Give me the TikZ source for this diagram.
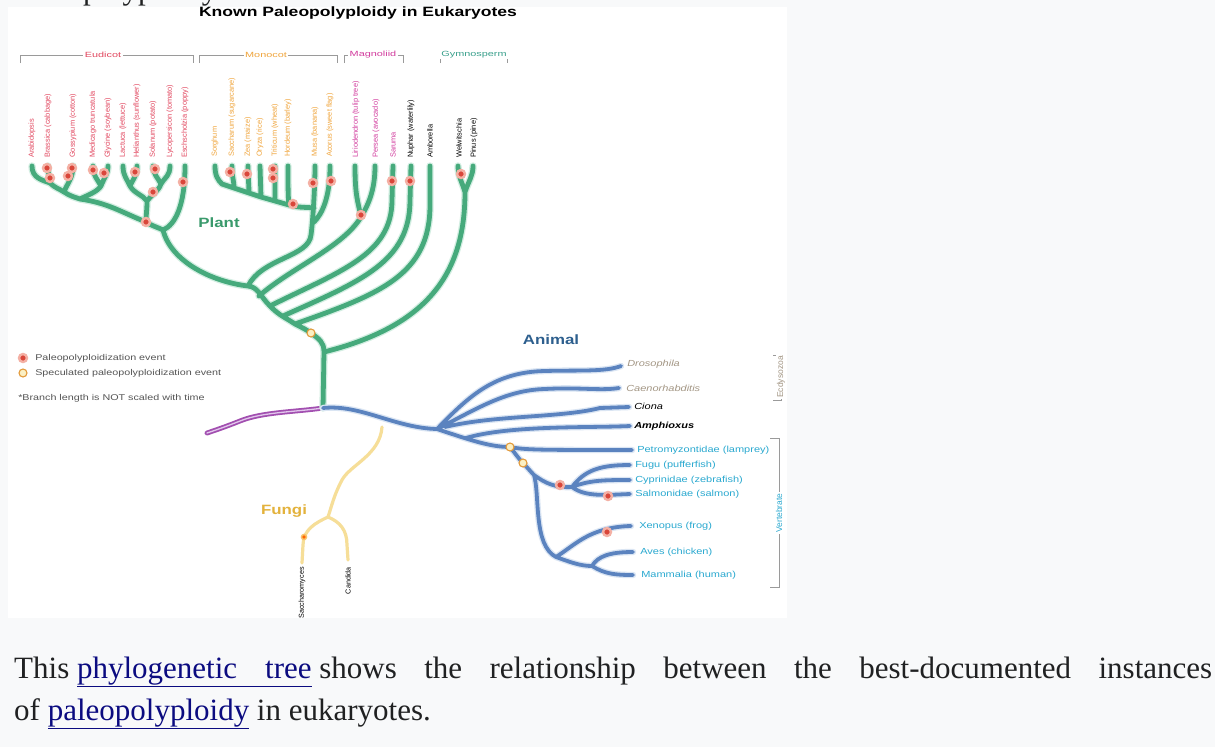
\documentclass[tikz,border=0pt]{standalone}
\usepackage{fontspec}
\setmainfont{Liberation Serif}
\newfontfamily\lsans{Liberation Sans}
\definecolor{pagebg}{HTML}{F8F9FA}
\definecolor{plantg}{HTML}{46AA7C}
\definecolor{planthalo}{HTML}{D3EEE2}
\definecolor{animb}{HTML}{5B83BF}
\definecolor{animhalo}{HTML}{DAE5F3}
\definecolor{fungiy}{HTML}{F6DE98}
\definecolor{rootp}{HTML}{A24FB0}
\definecolor{rootl}{HTML}{E2C6EC}
\definecolor{evred}{HTML}{D9463A}
\definecolor{evhalo}{HTML}{F4B0A4}
\definecolor{specc}{HTML}{E39A3A}
\definecolor{specfill}{HTML}{FBF0C4}
\definecolor{eudc}{HTML}{E2475F}
\definecolor{monoc}{HTML}{F0A53C}
\definecolor{magc}{HTML}{D23C9E}
\definecolor{gymc}{HTML}{3AA08C}
\definecolor{invc}{HTML}{A39684}
\definecolor{vertc}{HTML}{2AA9D0}
\definecolor{plantlab}{HTML}{3A9A6C}
\definecolor{animlab}{HTML}{2D5F8E}
\definecolor{fungilab}{HTML}{E3B23C}
\definecolor{linkc}{HTML}{0B0B80}
\definecolor{legc}{HTML}{555555}
\definecolor{brkc}{HTML}{9A9A9A}
\definecolor{captc}{HTML}{202122}
\begin{document}
\begin{tikzpicture}[x=1pt,y=-1pt,
  plant/.style={draw=plantg,line width=4.8pt,line cap=round,line join=round,
    preaction={draw=planthalo,line width=7.4pt,line cap=round,line join=round}},
  anim/.style={draw=animb,line width=3.8pt,line cap=round,line join=round,
    preaction={draw=animhalo,line width=6.4pt,line cap=round,line join=round}},
  fung/.style={draw=fungiy,line width=3.2pt,line cap=round,line join=round},
  rootst/.style={draw=rootp,line width=1.8pt,double=rootl,double distance=1.3pt,line cap=round},
  ev/.style={circle,fill=evred,draw=evhalo,line width=2.4pt,minimum size=8pt,inner sep=0pt},
  spec/.style={circle,fill=specfill,draw=specc,line width=1.1pt,minimum size=8pt,inner sep=0pt},
  tipl/.style={font=\lsans\fontsize{7.4}{8}\selectfont,rotate=90,anchor=west,inner sep=0pt},
  ftip/.style={font=\lsans\fontsize{7.2}{8}\selectfont,rotate=90,anchor=east,inner sep=0pt},
  anl/.style={font=\lsans\fontsize{8.8}{10}\selectfont,xscale=1.25,anchor=west,inner sep=0pt},
  brk/.style={draw=brkc,line width=0.6pt},
  brkl/.style={font=\lsans\fontsize{7.5}{8}\selectfont,xscale=1.45,fill=white,inner sep=1pt},
  sidel/.style={font=\lsans\fontsize{8.5}{9}\selectfont,rotate=90,fill=white,inner sep=1pt},
  legl/.style={font=\lsans\fontsize{8.4}{9}\selectfont,xscale=1.28,anchor=west,inner sep=0pt,text=legc},
  biglab/.style={font=\lsans\bfseries\fontsize{13.5}{14}\selectfont,xscale=1.25,inner sep=0pt},
  capt/.style={font=\fontsize{31}{42}\selectfont,anchor=base west,inner sep=0pt,text=captc}]
\useasboundingbox (0,0) rectangle (1215,747);
\clip (0,0) rectangle (1215,747);
\fill[pagebg] (0,0) rectangle (1215,747);
\fill[white] (8,7) rectangle (787,618);
\node[capt] (toptext) at (14,-1) {Paleopolyploidy};
\node[font=\lsans\bfseries\fontsize{13.5}{13.5}\selectfont,xscale=1.3,inner sep=0pt] (title) at (358,13) {Known Paleopolyploidy in Eukaryotes};
% brackets
\draw[brk] (20,63) -- (20,55) -- (193,55) -- (193,63);
\node[brkl,text=eudc] (beud) at (103,55) {Eudicot};
\draw[brk] (199,63) -- (199,55) -- (337,55) -- (337,63);
\node[brkl,text=monoc] (bmon) at (266,55) {Monocot};
\draw[brk] (344,63) -- (344,55) -- (403,55) -- (403,63);
\node[brkl,text=magc] (bmag) at (373,55) {Magnoliid};
\draw[brk] (440,63) -- (440,55) -- (507,55) -- (507,63);
\node[brkl,text=gymc] (bgym) at (474,55) {Gymnosperm};
% plant coordinates
\coordinate (e1) at (32,166); \coordinate (e2) at (48,166); \coordinate (e3) at (73,166);
\coordinate (e4) at (93,166); \coordinate (e5) at (108,166); \coordinate (e6) at (123,166);
\coordinate (e7) at (137,166); \coordinate (e8) at (153,166); \coordinate (e9) at (170,166);
\coordinate (e10) at (185,166);
\coordinate (j12) at (50,183); \coordinate (j123) at (64,192); \coordinate (j45) at (101,186);
\coordinate (jR) at (80,199); \coordinate (j67) at (130,186); \coordinate (j89) at (161,184);
\coordinate (jA) at (147,201); \coordinate (jC) at (146,222); \coordinate (jE) at (163,230);
\coordinate (m1) at (215,166); \coordinate (m2) at (232,166); \coordinate (m3) at (248,166);
\coordinate (m4) at (260,166); \coordinate (m5) at (275,166); \coordinate (m6) at (288,166);
\coordinate (m7) at (315,166); \coordinate (m8) at (330,166);
\coordinate (k0) at (222,184); \coordinate (k1) at (234,188); \coordinate (k2) at (249,193);
\coordinate (k3) at (261,197); \coordinate (k4) at (275,201); \coordinate (mC) at (289,205);
\coordinate (mJ) at (314,208); \coordinate (mA) at (314,222); \coordinate (mB) at (311,235);
\coordinate (g1) at (355,166); \coordinate (g2) at (375,166); \coordinate (g3) at (393,166);
\coordinate (gB) at (361,217); \coordinate (g3b) at (392,200);
\coordinate (n1) at (411,166); \coordinate (n1b) at (410,200);
\coordinate (a1) at (430,166); \coordinate (a1b) at (430,205);
\coordinate (w1) at (458,166); \coordinate (w2) at (473,166); \coordinate (wB) at (465,192);
\coordinate (F1) at (248,286); \coordinate (F2) at (259,296); \coordinate (F3) at (270,306);
\coordinate (F4) at (283,316); \coordinate (F5) at (295,324); \coordinate (H) at (311,333);
\coordinate (G0) at (324,352); \coordinate (T0) at (323,408); \coordinate (R) at (207,433);
% root
\draw[rootst] (T0) .. controls (295,412) and (262,412) .. (240,421) .. controls (225,427) and (213,431) .. (R);
% fungi
\coordinate (fz0) at (382,427); \coordinate (fJ) at (328,517);
\coordinate (tSac) at (302,563); \coordinate (tCan) at (348,560);
\draw[fung] (fz0) .. controls (380,455) and (350,465) .. (342,480) .. controls (334,495) and (332,505) .. (fJ)
  (fJ) .. controls (315,523) and (303,530) .. (303,545) -- (tSac)
  (fJ) .. controls (340,522) and (347,530) .. (347,545) -- (tCan);
% plant tree
\draw[plant]
 (e1) .. controls +(0,12) and +(-8,-3) .. (j12)
 (e2) .. controls +(0,8) and +(-1,-8) .. (j12)
 (j12) .. controls +(5,5) and +(-6,-4) .. (j123)
 (e3) .. controls +(0,12) and +(4,-10) .. (j123)
 (j123) .. controls +(6,4) and +(-6,-2) .. (jR)
 (e4) .. controls +(0,10) and +(-3,-6) .. (j45)
 (e5) .. controls +(0,8) and +(3,-8) .. (j45)
 (j45) .. controls +(-4,6) and +(8,-4) .. (jR)
 (jR) .. controls +(28,4) and +(-25,-10) .. (jC)
 (e6) .. controls +(0,10) and +(-3,-7) .. (j67)
 (e7) .. controls +(0,10) and +(3,-7) .. (j67)
 (e8) .. controls +(0,8) and +(-3,-6) .. (j89)
 (e9) .. controls +(0,10) and +(4,-7) .. (j89)
 (j67) .. controls +(5,8) and +(-4,-6) .. (jA)
 (j89) .. controls +(-3,8) and +(4,-6) .. (jA)
 (jA) .. controls +(0,10) and +(0,-8) .. (jC)
 (jC) .. controls +(6,4) and +(-6,-3) .. (jE)
 (e10) .. controls +(0,40) and +(12,-5) .. (jE)
 (jE) .. controls +(8,32) and +(-35,-4) .. (F1) .. controls +(10,1) and +(-10,-10) .. (F3)
   .. controls +(10,10) and +(-12,-8) .. (F5) .. controls +(8,4) and +(-6,-4) .. (H)
   .. controls +(8,6) and +(0,-10) .. (G0) -- (T0)
 (F1) .. controls +(14,-28) and +(-2,22) .. (mB)
 (mB) .. controls +(2,-15) and +(0,20) .. (m7)
 (m8) .. controls +(0,32) and +(8,-8) .. (mA)
 (mC) .. controls +(10,3) and +(-8,-1) .. (mJ)
 (m1) .. controls +(0,10) and +(-4,-4) .. (k0) -- (k1) -- (k2) -- (k3) -- (k4) -- (mC)
 (m2) .. controls +(0,12) and +(0,-8) .. (k1)
 (m3) .. controls +(0,12) and +(0,-8) .. (k2)
 (m4) -- (k3)
 (m5) -- (k4)
 (m6) .. controls +(0,20) and +(-1,-8) .. (mC)
 (F2) .. controls +(32,-28) and +(-18,30) .. (gB)
 (g1) .. controls +(0,30) and +(-3,-15) .. (gB)
 (g2) .. controls +(0,25) and +(7,-12) .. (gB)
 (F3) .. controls +(70,-35) and +(0,55) .. (g3b) -- (g3)
 (F4) .. controls +(78,-35) and +(0,62) .. (n1b) -- (n1)
 (F5) .. controls +(85,-30) and +(0,70) .. (a1b) -- (a1)
 (G0) .. controls +(100,-25) and +(0,85) .. (wB)
 (wB) .. controls +(-3,-10) and +(0,10) .. (w1)
 (wB) .. controls +(4,-12) and +(0,10) .. (w2);
% animal coordinates
\coordinate (A0) at (437,429); \coordinate (A1) at (445,427); \coordinate (A2) at (466,438);
\coordinate (D1) at (545,371); \coordinate (C1) at (545,389); \coordinate (P1) at (600,408);
\coordinate (S1) at (510,447); \coordinate (S2) at (523,463); \coordinate (V0) at (534,475);
\coordinate (TF) at (572,487); \coordinate (TT) at (556,557); \coordinate (TA) at (592,566);
\coordinate (tDro) at (621,366); \coordinate (tCae) at (619,388); \coordinate (tCio) at (629,407);
\coordinate (tAmp) at (630,426); \coordinate (tPet) at (632,450); \coordinate (tFug) at (630,465);
\coordinate (tCyp) at (630,480); \coordinate (tSal) at (630,494); \coordinate (tXen) at (631,526);
\coordinate (tAve) at (633,552); \coordinate (tMam) at (633,575);
\draw[anim]
 (T0) .. controls (360,404) and (395,428) .. (A0)
 (A0) .. controls (470,395) and (495,372) .. (D1) .. controls (580,370) and (605,372) .. (tDro)
 (A0) .. controls (475,410) and (505,390) .. (C1) .. controls (580,387) and (600,391) .. (tCae)
 (A1) .. controls (495,415) and (560,418) .. (P1) -- (tCio)
 (A2) .. controls (510,425) and (590,428) .. (tAmp)
 (A0) .. controls (470,440) and (490,447) .. (S1) .. controls (525,450) and (540,450) .. (tPet)
 (S1) .. controls (515,453) and (518,458) .. (S2) .. controls (527,467) and (530,471) .. (V0)
 (V0) .. controls (545,483) and (555,488) .. (TF)
 (TF) .. controls (585,470) and (600,465) .. (tFug)
 (TF) .. controls (590,480) and (605,480) .. (tCyp)
 (TF) .. controls (585,497) and (605,495) .. (tSal)
 (V0) .. controls (540,495) and (533,545) .. (TT)
 (TT) .. controls (575,545) and (590,527) .. (tXen)
 (TT) .. controls (570,562) and (580,566) .. (TA)
 (TA) .. controls (598,556) and (610,552) .. (tAve)
 (TA) .. controls (605,574) and (615,575) .. (tMam);
% events
\foreach \p [count=\i] in {(47,168),(50,178),(72,168),(68,176),(93,170),(104,173),(135,172),(155,169),(153,192),(183,182),(146,222),
  (230,172),(247,174),(273,169),(273,178),(293,204),(313,183),(331,181),(361,215),(392,181),(410,181),(461,174),
  (560,485),(608,496),(607,532)}
  \node[ev] (ev\i) at \p {};
\node[spec] (sp1) at (H) {};
\node[spec] (sp2) at (S1) {};
\node[spec] (sp3) at (S2) {};
\node[circle,fill=orange!80!red,draw=fungiy!70!orange,line width=1.5pt,minimum size=5pt,inner sep=0pt] (fev) at (304,537) {};
% plant tip labels
\begin{scope}[every node/.append style={tipl}]
\node[text=eudc] (l1) at (32,158) {Arabidopsis};
\node[text=eudc] (l2) at (48,158) {Brassica (cabbage)};
\node[text=eudc] (l3) at (73,158) {Gossypium (cotton)};
\node[text=eudc] (l4) at (93,158) {Medicago truncatula};
\node[text=eudc] (l5) at (108,158) {Glycine (soybean)};
\node[text=eudc] (l6) at (123,158) {Lactuca (lettuce)};
\node[text=eudc] (l7) at (137,158) {Helianthus (sunflower)};
\node[text=eudc] (l8) at (153,158) {Solanum (potato)};
\node[text=eudc] (l9) at (170,158) {Lycopersicon (tomato)};
\node[text=eudc] (l10) at (185,158) {Eschscholzia (poppy)};
\node[text=monoc] (l11) at (215,157) {Sorghum};
\node[text=monoc] (l12) at (232,157) {Saccharum (sugarcane)};
\node[text=monoc] (l13) at (248,157) {Zea (maize)};
\node[text=monoc] (l14) at (260,157) {Oryza (rice)};
\node[text=monoc] (l15) at (275,157) {Triticum (wheat)};
\node[text=monoc] (l16) at (288,157) {Hordeum (barley)};
\node[text=monoc] (l17) at (315,157) {Musa (banana)};
\node[text=monoc] (l18) at (330,157) {Acorus (sweet flag)};
\node[text=magc] (l19) at (356,158) {Liriodendron (tulip tree)};
\node[text=magc] (l20) at (376,158) {Persea (avocado)};
\node[text=magc] (l21) at (393,158) {Saruma};
\node[text=black] (l22) at (411,158) {Nuphar (waterlily)};
\node[text=black] (l23) at (430,158) {Amborella};
\node[text=black] (l24) at (459,158) {Welwitschia};
\node[text=black] (l25) at (474,158) {Pinus (pine)};
\end{scope}
% fungi tip labels
\node[ftip] (lsac) at (302,567) {Saccharomyces};
\node[ftip] (lcan) at (348,567) {Candida};
% animal labels
\node[anl,text=invc,font=\lsans\itshape\fontsize{8.8}{10}\selectfont] (ldro) at (627,364) {Drosophila};
\node[anl,text=invc,font=\lsans\itshape\fontsize{8.8}{10}\selectfont] (lcae) at (626,388) {Caenorhabditis};
\node[anl,text=black,font=\lsans\itshape\fontsize{8.8}{10}\selectfont] (lcio) at (634,406) {Ciona};
\node[anl,text=black,font=\lsans\bfseries\itshape\fontsize{8.8}{10}\selectfont] (lamp) at (634,426) {Amphioxus};
\node[anl,text=vertc] (lpet) at (637,450) {Petromyzontidae (lamprey)};
\node[anl,text=vertc] (lfug) at (635,465) {Fugu (pufferfish)};
\node[anl,text=vertc] (lcyp) at (635,480) {Cyprinidae (zebrafish)};
\node[anl,text=vertc] (lsal) at (635,494) {Salmonidae (salmon)};
\node[anl,text=vertc] (lxen) at (639,526) {Xenopus (frog)};
\node[anl,text=vertc] (lave) at (640,552) {Aves (chicken)};
\node[anl,text=vertc] (lmam) at (641,575) {Mammalia (human)};
% side brackets
\draw[brk] (773,355) -- (781,355) -- (781,400) -- (773,400);
\node[sidel,text=invc] (binv) at (781,377) {Ecdysozoa};
\draw[brk] (770,438) -- (779,438) -- (779,587) -- (770,587);
\node[sidel,text=vertc] (bvert) at (779,513) {Vertebrate};
% group labels
\node[biglab,text=plantlab] (plant) at (219,223) {Plant};
\node[biglab,text=animlab] (animal) at (551,340) {Animal};
\node[biglab,text=fungilab] (fungi) at (284,511) {Fungi};
% legend
\node[ev] (lev) at (23,358) {};
\node[legl] (levt) at (35,358) {Paleopolyploidization event};
\node[spec] (lsp) at (23,373) {};
\node[legl] (lspt) at (35,373) {Speculated paleopolyploidization event};
\node[legl] (lnote) at (18,398) {*Branch length is NOT scaled with time};
% caption
\node[capt] (cap1) at (14,678) {\hbox to 1198pt{This\ \textcolor{linkc}{\underline{phylogenetic\hspace{28pt}tree}}\ shows\hfill the\hfill relationship\hfill between\hfill the\hfill best-documented\hfill instances}};
\node[capt] (cap2) at (14,720) {of \textcolor{linkc}{\underline{paleopolyploidy}} in eukaryotes.};
\end{tikzpicture}
\end{document}
